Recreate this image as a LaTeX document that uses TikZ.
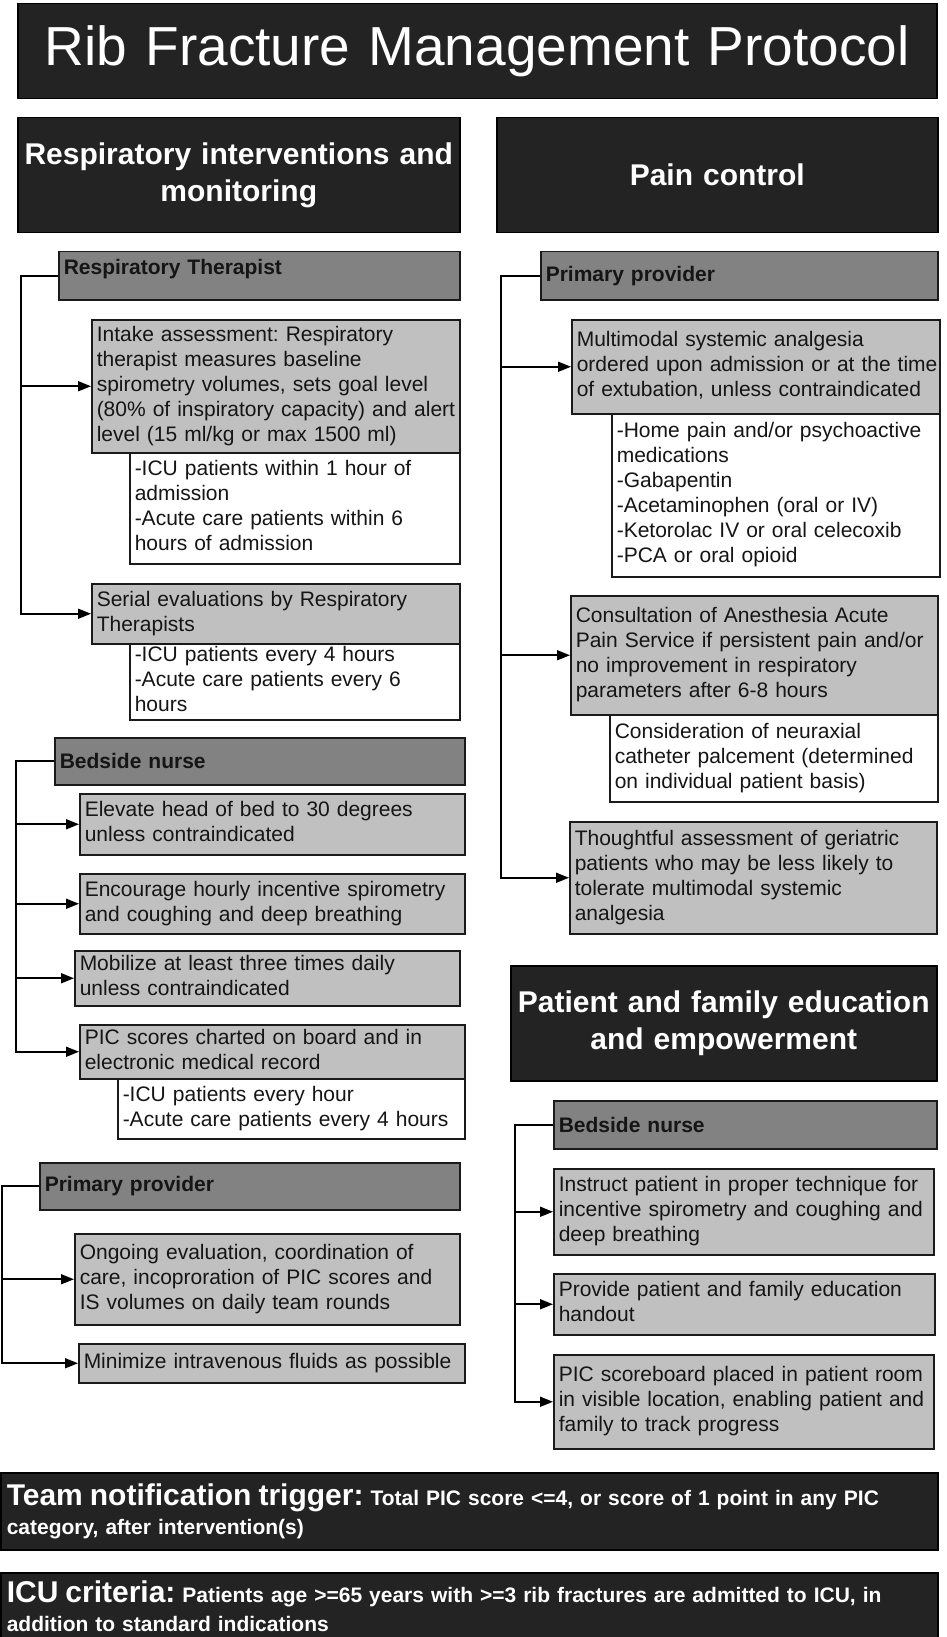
\documentclass[tikz,border=0pt]{standalone}
\usepackage{fontspec}
\setmainfont{Liberation Sans}
\usetikzlibrary{arrows.meta}
\definecolor{darkfill}{HTML}{232323}
\definecolor{rolefill}{HTML}{828282}
\definecolor{lightfill}{HTML}{C0C0C0}
\definecolor{edgecol}{HTML}{1A1A1A}
\definecolor{txtcol}{HTML}{151515}
\newcommand{\rowsblock}[1]{\begin{tabular}{@{}l@{}}#1\end{tabular}}
\frenchspacing
\begin{document}
\begin{tikzpicture}[x=1pt,y=-1pt,
  bx/.style 2 args={anchor=north west, minimum width=#1pt, minimum height=#2pt,
    text width=#1pt-10pt, inner xsep=5pt, inner ysep=0pt, align=left,
    draw=edgecol, line width=1.5pt},
  dark/.style={fill=darkfill, text=white, draw=black},
  role/.style={fill=rolefill, text=txtcol, font=\bfseries\fontsize{21}{25}\selectfont},
  light/.style={fill=lightfill, text=txtcol, font=\fontsize{21}{25}\selectfont},
  subbox/.style={fill=white, text=txtcol, font=\fontsize{21}{25}\selectfont},
  sect/.style={dark, align=center, font=\bfseries\fontsize{30}{37}\selectfont},
  banner/.style={dark, inner xsep=6pt, text width=925pt, font=\bfseries\fontsize{21}{29}\selectfont},
  arr/.style={draw=black, line width=1.6pt, -{Triangle[length=13pt,width=10pt]}},
]
\useasboundingbox (0,0) rectangle (946,1637);

% title
\node[bx={919}{95}, dark, align=center, font=\fontsize{55}{60}\selectfont] (title) at (17,3) {Rib Fracture Management Protocol};

% left column
\node[bx={442}{115}, sect] (resphead) at (17,117) {Respiratory interventions and\\monitoring};
\node[bx={401}{48}, role, text depth=17pt] (rt) at (58,251) {Respiratory Therapist};
\node[bx={368}{133}, light] (intake) at (91,319) {\rowsblock{Intake assessment: Respiratory\\therapist measures baseline\\spirometry volumes, sets goal level\\(80\% of inspiratory capacity) and alert\\level (15 ml/kg or max 1500 ml)}};
\node[bx={330}{111}, subbox] (intakesub) at (129,452) {\rowsblock{-ICU patients within 1 hour of\\admission\\-Acute care patients within 6\\hours of admission}};
\node[bx={368}{60}, light] (serial) at (91,583) {\rowsblock{Serial evaluations by Respiratory\\Therapists}};
\node[bx={330}{76}, subbox] (serialsub) at (129,643) {\rowsblock{-ICU patients every 4 hours\\-Acute care patients every 6\\hours}};

\node[bx={410}{47}, role] (bnA) at (54,737) {Bedside nurse};
\node[bx={385}{61}, light] (elev) at (79,793) {\rowsblock{Elevate head of bed to 30 degrees\\unless contraindicated}};
\node[bx={385}{60}, light] (enc) at (79,873) {\rowsblock{Encourage hourly incentive spirometry\\and coughing and deep breathing}};
\node[bx={385}{55}, light] (mob) at (74,950) {\rowsblock{Mobilize at least three times daily\\unless contraindicated}};
\node[bx={385}{54}, light] (pic) at (79,1024) {\rowsblock{PIC scores charted on board and in\\electronic medical record}};
\node[bx={347}{60}, subbox] (picsub) at (117,1078) {\rowsblock{-ICU patients every hour\\-Acute care patients every 4 hours}};

\node[bx={420}{47}, role] (ppA) at (39,1162) {Primary provider};
\node[bx={385}{91}, light] (ongo) at (74,1233) {\rowsblock{Ongoing evaluation, coordination of\\care, incoproration of PIC scores and\\IS volumes on daily team rounds}};
\node[bx={386}{39}, light] (mini) at (78,1343) {\rowsblock{Minimize intravenous fluids as possible}};

% right column
\node[bx={441}{115}, sect] (painhead) at (496,117) {Pain control};
\node[bx={397}{48}, role] (ppB) at (540,251) {Primary provider};
\node[bx={368}{94}, light] (multi) at (571,319) {\rowsblock{Multimodal systemic analgesia\\ordered upon admission or at the time\\of extubation, unless contraindicated}};
\node[bx={328}{163}, subbox] (multisub) at (611,413) {\rowsblock{-Home pain and/or psychoactive\\medications\\-Gabapentin\\-Acetaminophen (oral or IV)\\-Ketorolac IV or oral celecoxib\\-PCA or oral opioid}};
\node[bx={367}{119}, light] (cons) at (570,595) {\rowsblock{Consultation of Anesthesia Acute\\Pain Service if persistent pain and/or\\no improvement in respiratory\\parameters after 6-8 hours}};
\node[bx={328}{87}, subbox] (conssub) at (609,714) {\rowsblock{Consideration of neuraxial\\catheter palcement (determined\\on individual patient basis)}};
\node[bx={367}{112}, light] (thought) at (569,821) {\rowsblock{Thoughtful assessment of geriatric\\patients who may be less likely to\\tolerate multimodal systemic\\analgesia}};

\node[bx={426}{115}, sect] (eduhead) at (510,965) {Patient and family education\\and empowerment};
\node[bx={383}{48}, role] (bnB) at (553,1100) {Bedside nurse};
\node[bx={380}{86}, light] (instr) at (553,1168) {\rowsblock{Instruct patient in proper technique for\\incentive spirometry and coughing and\\deep breathing}};
\node[bx={381}{61}, light] (prov) at (553,1273) {\rowsblock{Provide patient and family education\\handout}};
\node[bx={380}{94}, light] (board) at (553,1354) {\rowsblock{PIC scoreboard placed in patient room\\in visible location, enabling patient and\\family to track progress}};

% banners
\node[bx={937}{77}, banner] (team) at (0,1472) {{\fontsize{30}{29}\selectfont Team notification trigger:} Total PIC score <=4, or score of 1 point in any PIC\\category, after intervention(s)};
\node[bx={937}{66}, banner] (icu) at (0,1572) {{\fontsize{30}{29}\selectfont ICU criteria:} Patients age >=65 years with >=3 rib fractures are admitted to ICU, in\\addition to standard indications};

% buses
\coordinate (busRT) at (21,0);
\coordinate (busBA) at (16,0);
\coordinate (busPA) at (2,0);
\coordinate (busPB) at (501,0);
\coordinate (busBB) at (515,0);

\draw[arr] (rt.west) -- (rt.west -| busRT) |- (intake.west);
\draw[arr] (rt.west) -- (rt.west -| busRT) |- (serial.west);

\draw[arr] (bnA.west) -- (bnA.west -| busBA) |- (elev.west);
\draw[arr] (bnA.west) -- (bnA.west -| busBA) |- (enc.west);
\draw[arr] (bnA.west) -- (bnA.west -| busBA) |- (mob.west);
\draw[arr] (bnA.west) -- (bnA.west -| busBA) |- (pic.west);

\draw[arr] (ppA.west) -- (ppA.west -| busPA) |- (ongo.west);
\draw[arr] (ppA.west) -- (ppA.west -| busPA) |- (mini.west);

\draw[arr] (ppB.west) -- (ppB.west -| busPB) |- (multi.west);
\draw[arr] (ppB.west) -- (ppB.west -| busPB) |- (cons.west);
\draw[arr] (ppB.west) -- (ppB.west -| busPB) |- (thought.west);

\draw[arr] (bnB.west) -- (bnB.west -| busBB) |- (instr.west);
\draw[arr] (bnB.west) -- (bnB.west -| busBB) |- (prov.west);
\draw[arr] (bnB.west) -- (bnB.west -| busBB) |- (board.west);
\end{tikzpicture}
\end{document}
